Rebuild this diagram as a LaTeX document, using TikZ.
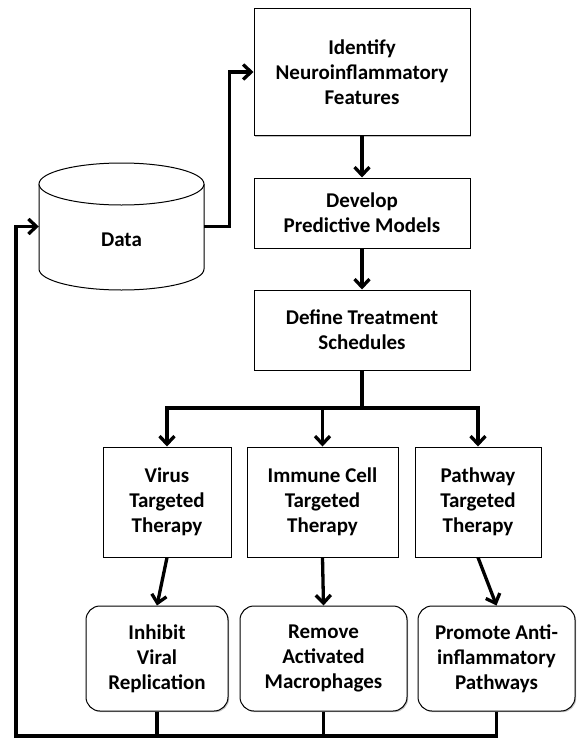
\documentclass[tikz,border=0pt]{standalone}
\usepackage{fontspec}
\setmainfont{Carlito}
\usetikzlibrary{arrows.meta,shadows}
\tikzset{
  box/.style={draw, line width=1pt, fill=white, inner sep=0pt, align=center,
    font=\bfseries\fontsize{21}{25}\selectfont,
    drop shadow={shadow xshift=1.2pt, shadow yshift=-1.2pt, fill=black, opacity=0.25}},
  rbox/.style={box, rounded corners=14pt},
  lbl/.style={inner sep=0pt, font=\bfseries\fontsize{21}{25}\selectfont},
  conn/.style={line width=3.3pt},
  arr/.style={conn, -{Straight Barb[length=8pt,width=15pt]}},
}
\begin{document}
\begin{tikzpicture}[x=1pt,y=-1pt]
\useasboundingbox (0,0) rectangle (576,739);
% cylinder
\draw[line width=1pt, fill=white] (39,184) -- (39,269) arc[start angle=180,end angle=0,x radius=82.5,y radius=21] -- (204,184);
\draw[line width=1pt, fill=white] (121.5,184) ellipse[x radius=82.5,y radius=21];
\node[minimum width=165pt, minimum height=127pt, inner sep=0pt] (data) at (121.5,226.5) {};
\node[lbl] (datatext) at (121.5,240) {Data};
% boxes
\node[box, minimum width=216pt, minimum height=127pt] (identify) at (362,72) {Identify\\Neuroinflammatory\\Features};
\node[box, minimum width=216pt, minimum height=70pt] (develop) at (362,213) {Develop\\Predictive Models};
\node[box, minimum width=216pt, minimum height=80pt] (define) at (362,330) {Define Treatment\\Schedules};
\node[box, minimum width=128pt, minimum height=110pt] (virus) at (167,502) {Virus\\Targeted\\Therapy};
\node[box, minimum width=151pt, minimum height=110pt] (immune) at (322.5,502) {Immune Cell\\Targeted\\Therapy};
\node[box, minimum width=126pt, minimum height=110pt] (pathway) at (478,502) {Pathway\\Targeted\\Therapy};
\node[rbox, minimum width=142pt, minimum height=105pt] (inhibit) at (157,658.5) {Inhibit\\Viral\\Replication};
\node[rbox, minimum width=167pt, minimum height=105pt] (remove) at (323.5,658.5) {Remove\\Activated\\Macrophages};
\node[rbox, minimum width=157pt, minimum height=105pt] (promote) at (496.5,658.5) {Promote Anti-\\inflammatory\\Pathways};
% connectors
\coordinate (branch) at (362,408);
\coordinate (fb) at (16,736);
\draw[arr] (data.east) -- ++(25,0) |- (identify.west);
\draw[arr] (identify.south) -- (develop.north);
\draw[arr] (develop.south) -- (define.north);
\draw[conn] (define.south) -- (branch);
\draw[arr] (branch) -| (virus.north);
\draw[arr] (branch) -| (pathway.north);
\draw[arr] (immune.north |- branch) -- (immune.north);
\draw[arr] (virus.south) -- (inhibit.north);
\draw[arr] (immune.south) -- (remove.north);
\draw[arr] (pathway.south) -- (promote.north);
\draw[conn] (inhibit.south) -- (inhibit.south |- fb);
\draw[conn] (remove.south) -- (remove.south |- fb);
\draw[arr] (promote.south) |- (fb) |- (data.west);
\end{tikzpicture}
\end{document}
